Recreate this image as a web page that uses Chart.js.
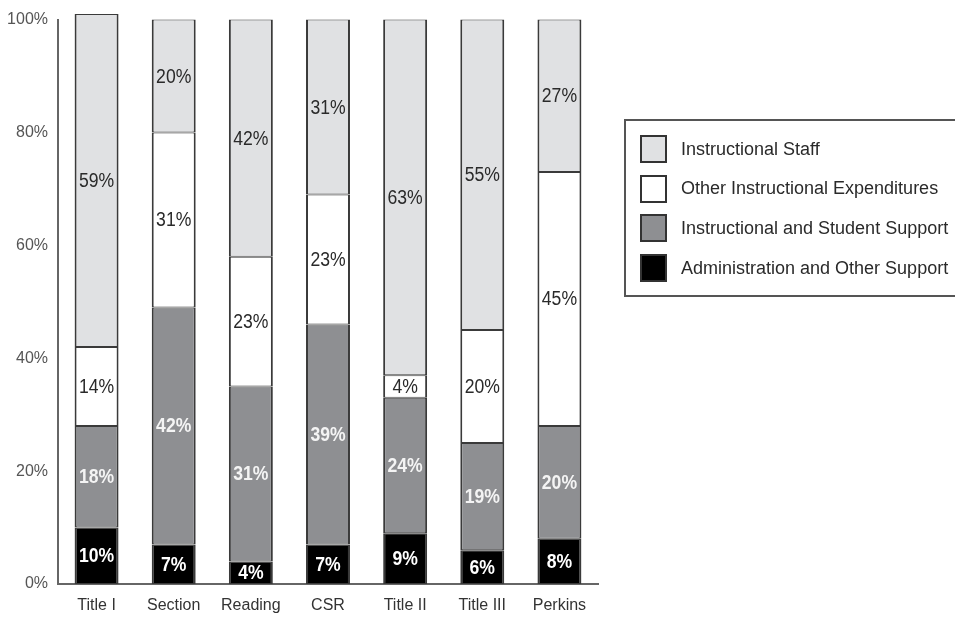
<!DOCTYPE html>
<html>
<head>
<meta charset="utf-8">
<script src="https://cdn.jsdelivr.net/npm/chart.js@4.4.0/dist/chart.umd.min.js"></script>
<style>
  html, body { margin: 0; padding: 0; background: #fff; }
  #wrap { position: relative; width: 955px; height: 617px; overflow: hidden; }
  #legend {
    position: absolute; left: 624px; top: 119px; width: 345px; height: 174px;
    border: 2px solid #555; box-sizing: content-box;
    font-family: "Liberation Sans", Arial, sans-serif; font-size: 18px; color: #2a2a2a;
  }
  .item { position: absolute; left: 14px; height: 28px; display: flex; align-items: center; }
  .sw { width: 23px; height: 24px; border: 2px solid #333; margin-right: 14px; }
</style>
</head>
<body>
<div id="wrap">
  <canvas id="chart" width="955" height="617"></canvas>
  <div id="legend"></div>
</div>
<script>
(function() {
  'use strict';

  // ── Data ──────────────────────────────────────────────
  const categories = ['Title I', 'Section', 'Reading', 'CSR', 'Title II', 'Title III', 'Perkins'];
  const adminSupport   = [10, 7, 4, 7, 9, 6, 8];
  const studentSupport = [18, 42, 31, 39, 24, 19, 20];
  const otherInstr     = [14, 31, 23, 23, 4, 20, 45];
  const instrStaff     = [59, 20, 42, 31, 63, 55, 27];
  const yTicks = [0, 20, 40, 60, 80, 100];

  const SERIES = [
    { label: 'Administration and Other Support', data: adminSupport,   fill: '#000000', text: '#ffffff', bold: true },
    { label: 'Instructional and Student Support', data: studentSupport, fill: '#8e8f92', text: '#f4f4f4', bold: true },
    { label: 'Other Instructional Expenditures',  data: otherInstr,     fill: '#ffffff', text: '#2a2a2a', bold: false },
    { label: 'Instructional Staff',               data: instrStaff,     fill: '#e0e1e3', text: '#2a2a2a', bold: false }
  ];

  const FONT = '"Liberation Sans", Arial, sans-serif';

  // segment value labels (slightly condensed, like the original)
  const valueLabels = {
    id: 'valueLabels',
    afterDatasetsDraw(chart) {
      const ctx = chart.ctx;
      chart.data.datasets.forEach((ds, i) => {
        const meta = chart.getDatasetMeta(i);
        const s = SERIES[i];
        meta.data.forEach((bar, j) => {
          const y = (bar.y + bar.base) / 2;
          ctx.save();
          ctx.translate(bar.x, y + 1);
          ctx.scale(0.88, 1);
          ctx.textAlign = 'center';
          ctx.textBaseline = 'middle';
          ctx.fillStyle = s.text;
          ctx.font = (s.bold ? 'bold ' : '') + '20px ' + FONT;
          ctx.fillText(ds.data[j] + '%', 0, 0);
          ctx.restore();
        });
      });
    }
  };

  new Chart(document.getElementById('chart'), {
    type: 'bar',
    data: {
      labels: categories,
      datasets: SERIES.map(s => ({
        label: s.label,
        data: s.data,
        backgroundColor: s.fill,
        borderColor: '#3a3a3a',
        borderWidth: { left: 2, right: 2, top: 1, bottom: 1 },
        borderSkipped: false,
        barPercentage: 0.57,
        categoryPercentage: 1.0,
        clip: false
      }))
    },
    options: {
      responsive: false,
      animation: false,
      layout: { padding: { top: 19, right: 357, left: 0, bottom: 0 } },
      plugins: {
        legend: { display: false },
        tooltip: { enabled: false }
      },
      scales: {
        x: {
          stacked: true,
          grid: { display: false, drawTicks: false },
          border: { display: true, color: '#666', width: 2 },
          ticks: { font: { family: FONT, size: 16 }, color: '#333', padding: 12 },
          afterFit: (s) => { s.height = 33; }
        },
        y: {
          stacked: true,
          min: 0,
          max: 100,
          grid: { display: false, drawTicks: false },
          border: { display: true, color: '#666', width: 2 },
          afterBuildTicks: (s) => { s.ticks = yTicks.map(v => ({ value: v })); },
          ticks: {
            font: { family: FONT, size: 16 }, color: '#555', padding: 10,
            callback: (v) => v + '%'
          },
          afterFit: (s) => { s.width = 58; }
        }
      }
    },
    plugins: [valueLabels]
  });

  // ── Legend (HTML) ─────────────────────────────────────
  const legend = document.getElementById('legend');
  SERIES.slice().reverse().forEach((s, i) => {
    const item = document.createElement('div');
    item.className = 'item';
    item.style.top = (14 + i * 39.7) + 'px';
    item.innerHTML = '<span class="sw" style="background:' + s.fill + '"></span><span>' + s.label + '</span>';
    legend.appendChild(item);
  });
})();
</script>
</body>
</html>
